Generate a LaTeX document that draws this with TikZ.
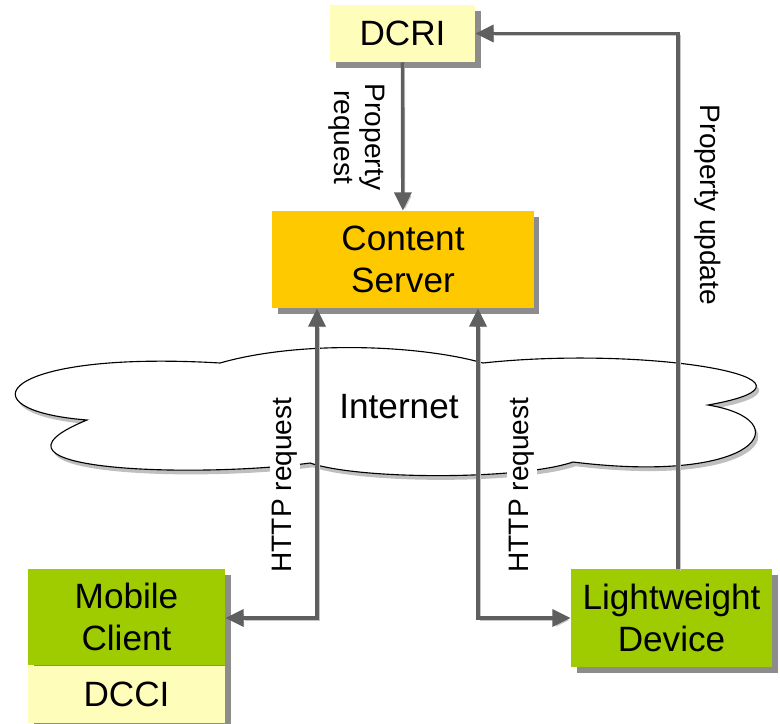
\documentclass[tikz,border=0pt]{standalone}
\usepackage{fontspec}
\setmainfont{Liberation Sans}
\usetikzlibrary{arrows.meta,shadows,positioning}
\definecolor{wire}{HTML}{5F5F5F}
\definecolor{pale}{HTML}{FFFDBA}
\definecolor{gold}{HTML}{FFC900}
\definecolor{leaf}{HTML}{9FCC00}
\tikzset{
  box/.style={fill=#1, inner sep=0pt, align=center, font=\fontsize{25}{30}\selectfont,
    drop shadow={shadow xshift=4pt, shadow yshift=-4pt, fill=black, opacity=0.45}},
  link/.style={draw=wire, line width=2.6pt, line join=miter, -{Triangle[length=13pt,width=12pt]},
    preaction={draw=black!22, transform canvas={shift={(1.5pt,-1.5pt)}}}},
  duplex/.style={link, {Triangle[length=13pt,width=12pt]}-{Triangle[length=13pt,width=12pt]}},
  cloudline/.style={draw=black, line width=0.8pt, fill=white,
    drop shadow={shadow xshift=2pt, shadow yshift=-3pt, fill=black, opacity=0.25}},
  lab/.style={font=\fontsize{20}{22}\selectfont, inner sep=2pt, align=center},
}

\begin{document}
\begin{tikzpicture}[x=0.025cm, y=-0.025cm]
  \useasboundingbox (0,0) rectangle (780,723);
  \draw[cloudline] (87,420) .. controls (-40,410) and (0,350) .. (220,363)
    .. controls (300,340) and (420,345) .. (483,363)
    .. controls (650,345) and (850,380) .. (708,405)
    .. controls (800,420) and (760,485) .. (573,462)
    .. controls (520,480) and (360,480) .. (310,463)
    .. controls (200,478) and (-40,472) .. (87,420) -- cycle;
  \node[font=\fontsize{25}{28}\selectfont] (net) at (399,407) {Internet};

  \node[box=pale, minimum width=3.625cm, minimum height=1.425cm] (dcri) at (402.5,33.5) {DCRI};
  \node[box=gold, minimum width=6.525cm, minimum height=2.425cm] (server) at (403,259.5) {Content\\Server};
  \node[box=leaf, minimum width=4.925cm, minimum height=2.4cm] (mobile) at (126.5,617) {Mobile\\Client};
  \node[box=pale, minimum width=4.925cm, minimum height=1.425cm, below=0pt of mobile] (dcci) {DCCI};
  \node[box=leaf, minimum width=5.025cm, minimum height=2.45cm] (light) at (671.5,618) {Lightweight\\Device};

  \coordinate (bendL) at (317,618);
  \coordinate (bendR) at (478,618);
  \coordinate (bendU) at (678,33.5);

  \draw[link] (dcri) -- (server);
  \draw[duplex] (server.south -| bendL) -- (bendL) -- (bendL -| mobile.east);
  \draw[duplex] (server.south -| bendR) -- (bendR) -- (bendR -| light.west);
  \draw[link] (light.north -| bendU) -- (bendU) -- (bendU -| dcri.east);

  \node[lab, rotate=-90] (preq) at (357,137) {Property\\request};
  \node[lab, rotate=-90] (pupd) at (708,205) {Property update};
  \node[lab, rotate=90, fill=white] (httpL) at (285,485) {HTTP request};
  \node[lab, rotate=90, fill=white] (httpR) at (522,485) {HTTP request};
\end{tikzpicture}
\end{document}
